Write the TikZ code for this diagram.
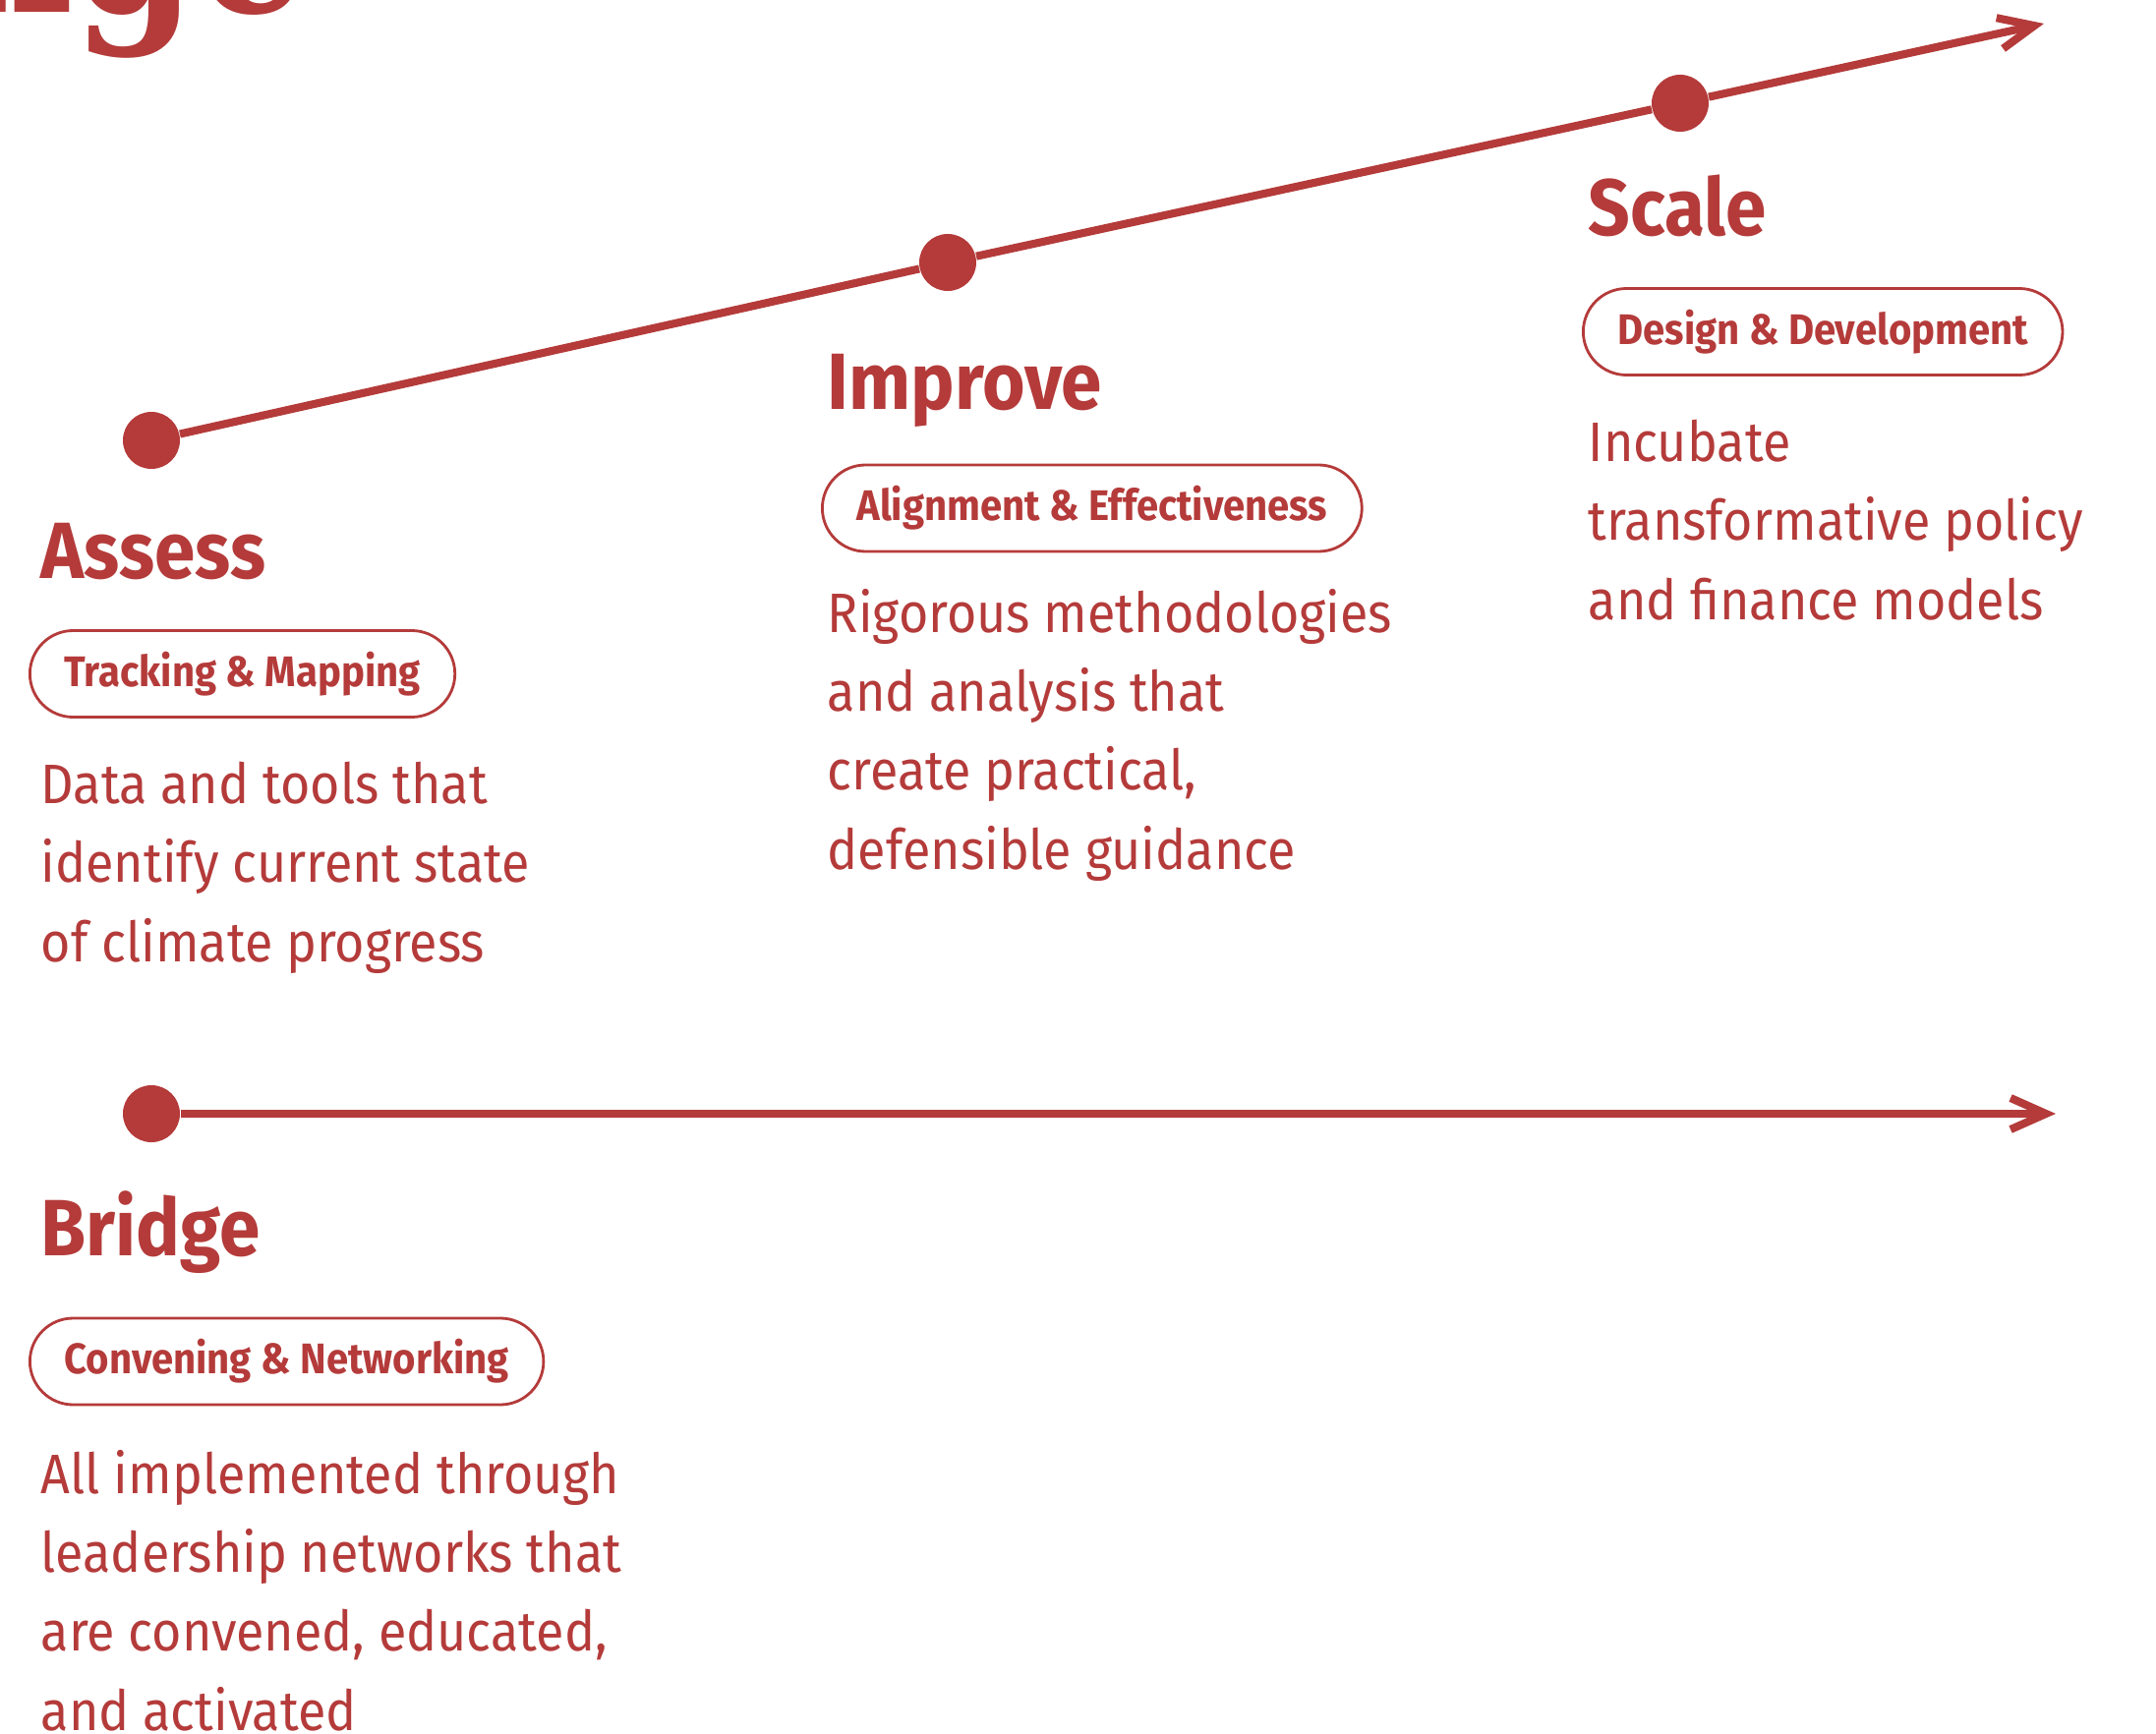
\documentclass[tikz,border=0pt]{standalone}
\usepackage{fontspec}
\setmainfont[FakeStretch=0.92]{Fira Sans}
\newfontfamily\titlefont[FakeStretch=0.85]{DejaVu Serif}
\usetikzlibrary{arrows.meta}
\definecolor{rust}{HTML}{B43B3A}

\begin{document}
\begin{tikzpicture}[dot/.style={circle,fill=rust,inner sep=0pt,minimum size=5.8mm},
    head/.style={anchor=base west,inner sep=0pt,text=rust,font=\fontsize{23.1}{28}\selectfont\bfseries},
    tag/.style={draw=rust,line width=0.8pt,rounded corners=4.4mm,minimum height=8.8mm,inner xsep=3.5mm,anchor=west,text=rust,font=\fontsize{12.4}{14}\selectfont\bfseries},
    blurb/.style={anchor=base west,inner sep=0pt,align=left,text=rust,font=\fontsize{16.1}{22.8}\selectfont},
    arrow/.style={draw=rust,line width=2.3pt,-{Straight Barb[length=3.6mm,width=3.2mm]}}]
                \useasboundingbox (0,0) rectangle (21.93,-17.64);

                % title, cut off by the page
                \node[anchor=base east,inner sep=0pt,text=rust,font=\titlefont\bfseries\fontsize{60}{60}\selectfont] at (3.15,-0.13) (title) {nge};

                \node[dot] at (1.54,-4.48) (assess) {};
                \node[dot] at (9.64,-2.67) (improve) {};
                \node[dot] at (17.09,-1.05) (scale) {};
                \node[dot] at (1.54,-11.33) (bridge) {};
                \coordinate (topend) at (20.79,-0.24);
                \coordinate (lowend) at (20.91,-11.33);

                \draw[arrow] (assess) -- (improve) -- (scale) -- (topend);
                \draw[arrow] (bridge) -- (lowend);

                % blurbs sit on the baseline of their last line
                \node[head] at (0.41,-5.88) (assesshead) {Assess};
                \node[tag] at (0.29,-6.855) (assesstag) {Tracking \& Mapping};
                \node[blurb] at (0.41,-9.78) (assesstext) {Data and tools that\\identify current state\\of climate progress};

                \node[head] at (8.41,-4.16) (improvehead) {Improve};
                \node[tag] at (8.35,-5.17) (improvetag) {Alignment \& Effectiveness};
                \node[blurb] at (8.41,-8.84) (improvetext) {Rigorous methodologies\\and analysis that\\create practical,\\defensible guidance};

                \node[head] at (16.15,-2.40) (scalehead) {Scale};
                \node[tag] at (16.09,-3.375) (scaletag) {Design \& Development};
                \node[blurb] at (16.15,-6.30) (scaletext) {Incubate\\transformative policy\\and finance models};

                \node[head] at (0.41,-12.77) (bridgehead) {Bridge};
                \node[tag] at (0.29,-13.85) (bridgetag) {Convening \& Networking};
                \node[blurb] at (0.41,-17.60) (bridgetext) {All implemented through\\leadership networks that\\are convened, educated,\\and activated};
            \end{tikzpicture}
\end{document}
